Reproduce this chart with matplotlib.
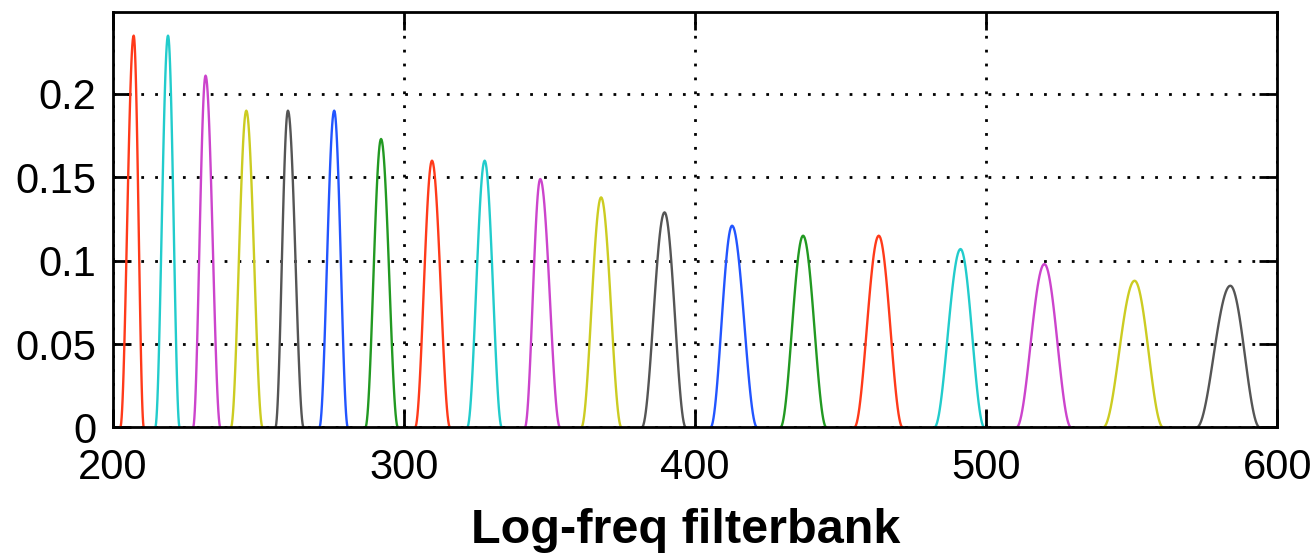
import matplotlib
matplotlib.use("Agg")
import matplotlib.pyplot as plt
import numpy as np

plt.rcParams['font.family'] = ['Liberation Sans', 'DejaVu Sans']

# filter peaks, lower/upper edges (Hz) and peak heights
centers = [207.1, 218.9, 231.8, 245.8, 260.1, 276.0, 292.1, 309.6, 327.7, 346.8,
           367.7, 389.5, 412.7, 437.1, 463.1, 491.2, 520.0, 551.0, 583.9]
lower = [202.5, 214.5, 227.5, 240.5, 255.8, 270.9, 286.7, 303.8, 321.7, 341.5,
         360.9, 381.7, 405.3, 429.3, 454.7, 482.2, 510.4, 540.2, 572.3]
upper = [210.6, 222.9, 236.9, 251.4, 265.5, 280.7, 297.9, 315.8, 333.6, 353.6,
         374.7, 396.8, 421.3, 445.1, 471.3, 499.4, 529.2, 560.8, 594.0]
heights = [0.235, 0.235, 0.211, 0.190, 0.190, 0.190, 0.173, 0.160, 0.160, 0.149,
           0.138, 0.129, 0.121, 0.115, 0.115, 0.107, 0.098, 0.088, 0.085]

colors = ['#ff3a1a', '#22cccc', '#cc44cc', '#cccc22', '#555555', '#2255ff', '#229922']

xticks = [200, 300, 400, 500, 600]
yticks = [0, 0.05, 0.1, 0.15, 0.2]

fig = plt.figure(figsize=(13.14, 5.58), dpi=100)
ax = fig.add_axes([0.086, 0.234, 0.886, 0.744])

for i in range(len(centers)):
    c, lo, hi, h = centers[i], lower[i], upper[i], heights[i]
    xl = np.linspace(lo, c, 30)
    xr = np.linspace(c, hi, 30)
    yl = h * np.sin(np.pi / 2 * (xl - lo) / (c - lo)) ** 2
    yr = h * np.sin(np.pi / 2 * (hi - xr) / (hi - c)) ** 2
    ax.plot(np.concatenate([xl, xr]), np.concatenate([yl, yr]),
            color=colors[i % len(colors)], linewidth=1.7)

ax.set_xlim(200, 600)
ax.set_ylim(0, 0.249)
ax.set_xticks(xticks)
ax.set_yticks(yticks)
ax.set_xticklabels([str(t) for t in xticks])
ax.set_yticklabels(['0', '0.05', '0.1', '0.15', '0.2'])

ax.grid(True, color='black', linestyle=(0, (1, 4)), linewidth=2)
ax.tick_params(direction='in', length=13, width=2, labelsize=30,
               top=True, right=True, pad=12)
ax.tick_params(axis='x', pad=15)
for s in ax.spines.values():
    s.set_linewidth(2)

ax.set_xlabel('Log-freq filterbank', fontsize=35, fontweight='bold')
ax.xaxis.set_label_coords(0.492, -0.195)

fig.savefig('out.png', dpi=100)
